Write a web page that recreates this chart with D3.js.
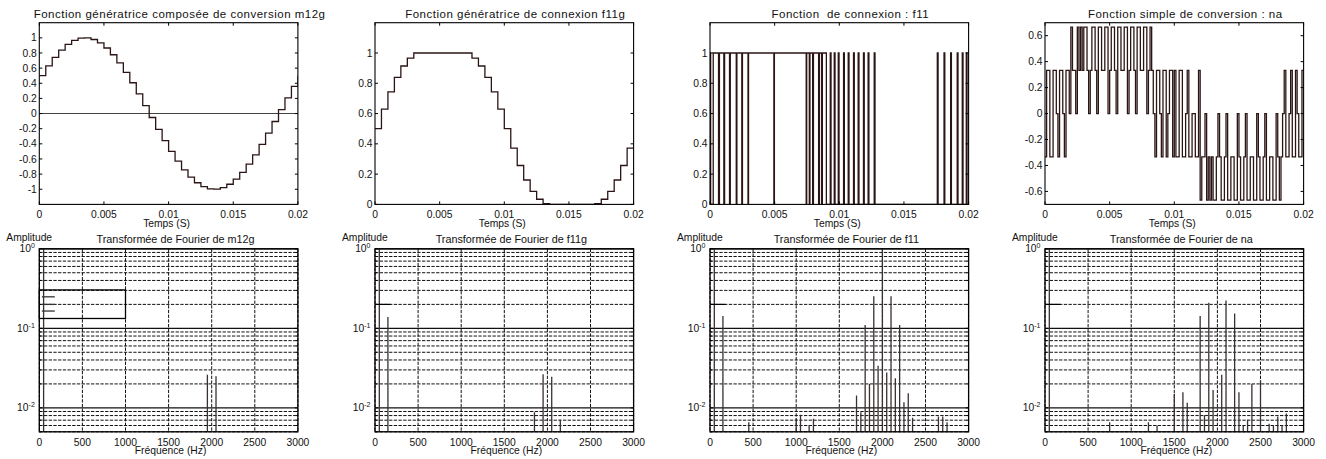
<!DOCTYPE html>
<html>
<head>
	<meta charset="utf-8">
	<script src="https://cdnjs.cloudflare.com/ajax/libs/d3/7.8.5/d3.min.js" charset="utf-8"></script>
	<style>
		body { margin: 0; background: #fff; }
		svg { font-family: 'Liberation Sans', Arial, sans-serif; }
		.lbl { font-size: 10.3px; fill: #111; }
		.title { font-size: 10.8px; fill: #111; text-anchor: middle; white-space: pre; }
		.title.big { font-size: 11.5px; letter-spacing: 0.5px; }
	</style>
</head>
<body>
<div id="chart"></div>
<script>

///////////////////////////////////////////////////
////////////////////// Data ///////////////////////
///////////////////////////////////////////////////

//Time axis of the upper plots and frequency axis of the lower plots
var timeTicks = [0, 0.005, 0.01, 0.015, 0.02];
var timeTickLabels = ["0", "0.005", "0.01", "0.015", "0.02"];
var freqTicks = [0, 500, 1000, 1500, 2000, 2500, 3000];
var stepDt = 0.0005;

//Stepped modulating functions, one value per 0.5 ms
var m12gValues = [0.5, 0.629, 0.743, 0.839, 0.914, 0.966, 0.995, 0.999, 0.978, 0.934,
	0.866, 0.777, 0.669, 0.545, 0.407, 0.259, 0.105, -0.052, -0.208, -0.358,
	-0.5, -0.629, -0.743, -0.839, -0.914, -0.966, -0.995, -0.999, -0.978, -0.934,
	-0.866, -0.777, -0.669, -0.545, -0.407, -0.259, -0.105, 0.052, 0.208, 0.358, 0.5];
var f11gValues = [0.5, 0.629, 0.743, 0.839, 0.914, 0.966, 1, 1, 1, 1,
	1, 1, 1, 1, 1, 0.966, 0.914, 0.839, 0.743, 0.629,
	0.5, 0.371, 0.257, 0.161, 0.086, 0.034, 0.005, 0, 0, 0,
	0, 0, 0, 0, 0.005, 0.034, 0.086, 0.161, 0.257, 0.371, 0.371];

//Connection function f11 : switching instants (starts at 1)
var f11Edges = [0.00005, 0.00025, 0.00066, 0.00073, 0.00107, 0.00113, 0.00151, 0.00157,
	0.00203, 0.00208, 0.00246, 0.00251, 0.00294, 0.00298, 0.00494, 0.00498,
	0.00744, 0.00748, 0.00768, 0.00773, 0.00794, 0.00800, 0.00840, 0.00846,
	0.00863, 0.00869, 0.00900,
	0.00930, 0.00936, 0.00961, 0.00967, 0.00992, 0.00998, 0.01033, 0.01039,
	0.01069, 0.01075, 0.01110, 0.01116, 0.01146, 0.01152, 0.01187, 0.01193,
	0.01223, 0.01229, 0.01270, 0.01276, 0.01758, 0.01764, 0.01810, 0.01816,
	0.01861, 0.01867, 0.01912, 0.01918, 0.01951, 0.01957, 0.01982, 0.01988];

//Simple conversion function na, in thirds, one level per 0.125 ms
var naDt = 0.000125;
var naThirds = [
	-1, 1, 1, -1,  -1, 1, 1, 0,  -1, 1, 1, 0,  -1, 1, 1, 0,
	2, 1, 1, 0,  2, 1, 2, 1,  2, 2, 1, 0,  1, 2, 2, 1,
	0, 2, 2, 1,  1, 2, 2, 0,  1, 2, 2, 1,  0, 2, 2, 1,
	1, 2, 2, 0,  1, 2, 2, 1,  0, 2, 2, 1,  1, 2, 2, 0,
	1, 2, 1, 0,  -1, 1, 1, 0,  -1, 1, 1, -1,  0, 1, 1, -1,
	1, -1, -1, 1,  1, -1, -1, 0,  1, -1, -1, 0,  0, -1, -1, 1,
	-2, -1, -1, 0,  -2, -1, -2, -1,  -2, -2, -1, 0,  -1, -2, -2, -1,
	0, -2, -2, -1,  -1, -2, -2, 0,  -1, -2, -2, -1,  0, -2, -2, -1,
	-1, -2, -2, 0,  -1, -2, -2, -1,  0, -2, -2, -1,  -1, -2, -2, 0,
	-1, -2, -1, 0,  1, -1, -1, 0,  1, -1, -1, 1,  0, -1, -1, 1];

//Fourier spectra (frequency in Hz, amplitude)
var m12gFreq = [50, 1950, 2050];
var m12gAmp = [1, 0.026, 0.025];
var f11gFreq = [50, 150, 1850, 1950, 2050, 2150];
var f11gAmp = [1, 0.139, 0.0088, 0.0264, 0.0247, 0.0071];
var f11Freq = [50, 150, 450, 1000, 1050, 1150, 1200, 1700, 1750, 1800, 1850, 1900, 1950, 2000,
	2050, 2100, 2150, 2200, 2250, 2300, 2350, 2650, 2700, 2750];
var f11Amp = [1, 0.143, 0.0066, 0.0073, 0.0082, 0.006, 0.0073, 0.0143, 0.0088, 0.110, 0.020, 0.254, 0.0338, 1,
	0.0279, 0.254, 0.0235, 0.110, 0.0118, 0.0153, 0.0075, 0.0078, 0.0078, 0.0066];
var naFreq = [50, 750, 1200, 1300, 1500, 1600, 1650, 1800, 1850, 1900, 1950, 2050, 2100, 2200,
	2250, 2300, 2350, 2400, 2500, 2600, 2650, 2700, 2750, 2800];
var naAmp = [1, 0.0066, 0.0066, 0.006, 0.015, 0.0157, 0.0116, 0.143, 0.0081, 0.209, 0.0168, 0.026, 0.224, 0.154,
	0.0157, 0.006, 0.0071, 0.020, 0.0223, 0.0063, 0.006, 0.0078, 0.006, 0.0085];

//Y ticks of the upper plots
var m12gTicks = [-1, -0.8, -0.6, -0.4, -0.2, 0, 0.2, 0.4, 0.6, 0.8, 1];
var unitTicks = [0, 0.2, 0.4, 0.6, 0.8, 1];
var naTicks = [-0.6, -0.4, -0.2, 0, 0.2, 0.4, 0.6];
var logTicks = [0.01, 0.1, 1];
var logTickExp = ["-2", "-1", "0"];

///////////////////////////////////////////////////
//////////////// Build the series /////////////////
///////////////////////////////////////////////////

function steps(values, dt) {
	return values.map(function(v, i) { return [Math.min(i * dt, 0.02), v]; });
}
var m12gPts = steps(m12gValues, stepDt);
var f11gPts = steps(f11gValues, stepDt);

var f11Pts = [[0, 1]], lvl = 1;
f11Edges.forEach(function(t) { lvl = 1 - lvl; f11Pts.push([t, lvl]); });
f11Pts.push([0.02, lvl]);

var naPts = naThirds.map(function(v, i) { return [i * naDt, v / 3]; });
naPts.push([0.02, naThirds[naThirds.length - 1] / 3]);

///////////////////////////////////////////////////
////////////// Initialize the SVG /////////////////
///////////////////////////////////////////////////

var width = 1326, height = 459;
var svg = d3.select("#chart").append("svg")
	.attr("width", width)
	.attr("height", height);

var colLeft = [39.3, 375, 710, 1045],
	plotW = 258.6;
var topRow = {y0: 22.7, y1: 204.4},
	botRow = {y0: 248.8, y1: 431.8};
var lineColor = "#2b1414";

function fmt(v) { return String(+v.toFixed(3)); }

///////////////////////////////////////////////////
///////////////// Upper plots /////////////////////
///////////////////////////////////////////////////

var topPanels = [
	{title: "Fonction génératrice composée de conversion m12g", dom: [-1.2, 1.2], ticks: m12gTicks, pts: m12gPts, zero: true},
	{title: "Fonction génératrice de connexion f11g", dom: [0, 1.2], ticks: unitTicks, pts: f11gPts},
	{title: "Fonction  de connexion : f11", dom: [0, 1.2], ticks: unitTicks, pts: f11Pts},
	{title: "Fonction simple de conversion : na", dom: [-0.7, 0.7], ticks: naTicks, pts: naPts}
];

topPanels.forEach(function(p, i) {
	var x0 = colLeft[i], x1 = x0 + plotW;
	var x = d3.scaleLinear().domain([0, 0.02]).range([x0, x1]);
	var y = d3.scaleLinear().domain(p.dom).range([topRow.y1, topRow.y0]);
	var g = svg.append("g");

	g.append("clipPath").attr("id", "clipT" + i)
		.append("rect").attr("x", x0).attr("y", topRow.y0).attr("width", plotW).attr("height", topRow.y1 - topRow.y0);

	if (p.zero) {
		g.append("line")
			.attr("x1", x0).attr("x2", x1)
			.attr("y1", y(0)).attr("y2", y(0))
			.style("stroke", "#444").style("stroke-width", 1.1);
	}

	var line = d3.line()
		.x(function(d) { return x(d[0]); })
		.y(function(d) { return y(d[1]); })
		.curve(d3.curveStepAfter);

	g.append("path")
		.attr("d", line(p.pts))
		.attr("clip-path", "url(#clipT" + i + ")")
		.style("fill", "none")
		.style("stroke", lineColor)
		.style("stroke-width", 1.3);

	//Frame and inner ticks
	g.append("rect")
		.attr("x", x0).attr("y", topRow.y0)
		.attr("width", plotW).attr("height", topRow.y1 - topRow.y0)
		.style("fill", "none").style("stroke", "#000").style("stroke-width", 1.1);

	timeTicks.forEach(function(t, k) {
		g.append("line").attr("x1", x(t)).attr("x2", x(t)).attr("y1", topRow.y1).attr("y2", topRow.y1 - 3).style("stroke", "#000");
		g.append("line").attr("x1", x(t)).attr("x2", x(t)).attr("y1", topRow.y0).attr("y2", topRow.y0 + 3).style("stroke", "#000");
		g.append("text").attr("class", "lbl")
			.attr("x", x(t)).attr("y", topRow.y1 + 13.7)
			.style("text-anchor", "middle")
			.text(timeTickLabels[k]);
	});

	p.ticks.forEach(function(v) {
		g.append("line").attr("x1", x0).attr("x2", x0 + 3).attr("y1", y(v)).attr("y2", y(v)).style("stroke", "#000");
		g.append("line").attr("x1", x1).attr("x2", x1 - 3).attr("y1", y(v)).attr("y2", y(v)).style("stroke", "#000");
		g.append("text").attr("class", "lbl")
			.attr("x", x0 - 2.5).attr("y", y(v)).attr("dy", "0.35em")
			.style("text-anchor", "end")
			.text(fmt(v));
	});

	g.append("text").attr("class", "title big")
		.attr("xml:space", "preserve")
		.attr("x", (x0 + x1) / 2 + 11).attr("y", 17.5)
		.text(p.title);

	g.append("text").attr("class", "lbl")
		.attr("x", (x0 + x1) / 2 - 2).attr("y", topRow.y1 + 22.4)
		.style("text-anchor", "middle")
		.text("Temps (S)");
});

///////////////////////////////////////////////////
///////////////// Lower plots /////////////////////
///////////////////////////////////////////////////

var botPanels = [
	{title: "Transformée de Fourier de m12g", freq: m12gFreq, amp: m12gAmp, box: true},
	{title: "Transformée de Fourier de f11g", freq: f11gFreq, amp: f11gAmp},
	{title: "Transformée de Fourier de f11", freq: f11Freq, amp: f11Amp},
	{title: "Transformée de Fourier de na", freq: naFreq, amp: naAmp}
];

botPanels.forEach(function(p, i) {
	var x0 = colLeft[i], x1 = x0 + plotW;
	var x = d3.scaleLinear().domain([0, 3000]).range([x0, x1]);
	var y = d3.scaleLog().domain([0.005, 1]).range([botRow.y1, botRow.y0]);
	var g = svg.append("g");

	g.append("clipPath").attr("id", "clipB" + i)
		.append("rect").attr("x", x0).attr("y", botRow.y0).attr("width", plotW).attr("height", botRow.y1 - botRow.y0);

	//Grid
	y.ticks().forEach(function(v) {
		var major = Math.abs(Math.log10(v) - Math.round(Math.log10(v))) < 1e-9;
		g.append("line")
			.attr("x1", x0).attr("x2", x1)
			.attr("y1", y(v)).attr("y2", y(v))
			.style("stroke", "#111")
			.style("stroke-width", major ? 1.2 : 1)
			.style("stroke-dasharray", major ? null : "3.3,1.4");
		g.append("line").attr("x1", x0).attr("x2", x0 + (major ? 3 : 2)).attr("y1", y(v)).attr("y2", y(v)).style("stroke", "#000");
		g.append("line").attr("x1", x1).attr("x2", x1 - (major ? 3 : 2)).attr("y1", y(v)).attr("y2", y(v)).style("stroke", "#000");
	});
	freqTicks.forEach(function(f) {
		g.append("line")
			.attr("x1", x(f)).attr("x2", x(f))
			.attr("y1", botRow.y0).attr("y2", botRow.y1)
			.style("stroke", "#111").style("stroke-width", 1)
			.style("stroke-dasharray", "3.3,1.4");
		g.append("text").attr("class", "lbl")
			.attr("x", x(f)).attr("y", botRow.y1 + 13.7)
			.style("text-anchor", "middle")
			.text(f);
	});

	//Spectrum lines
	g.selectAll(".spec")
		.data(p.freq)
	  .enter().append("line")
		.attr("class", "spec")
		.attr("clip-path", "url(#clipB" + i + ")")
		.attr("x1", function(d) { return x(d); })
		.attr("x2", function(d) { return x(d); })
		.attr("y1", botRow.y1)
		.attr("y2", function(d, k) { return y(Math.min(p.amp[k], 1.2)); })
		.style("stroke", "#3a3030")
		.style("stroke-width", 1.3);

	//Empty legend remains
	if (p.box) {
		g.append("rect")
			.attr("x", x(0)).attr("y", y(0.304))
			.attr("width", x(1000) - x(0)).attr("height", y(0.133) - y(0.304))
			.style("fill", "none").style("stroke", "#000").style("stroke-width", 1.3);
		[0.249, 0.2, 0.165].forEach(function(v) {
			g.append("line").attr("x1", x(30)).attr("x2", x(180)).attr("y1", y(v)).attr("y2", y(v))
				.style("stroke", "#333").style("stroke-width", 1.3);
		});
	} else {
		g.append("line").attr("x1", x(0)).attr("x2", x(180)).attr("y1", y(0.2)).attr("y2", y(0.2))
			.style("stroke", "#000").style("stroke-width", 1.2);
	}

	//Frame
	g.append("rect")
		.attr("x", x0).attr("y", botRow.y0)
		.attr("width", plotW).attr("height", botRow.y1 - botRow.y0)
		.style("fill", "none").style("stroke", "#000").style("stroke-width", 1.3);

	//Log tick labels
	logTicks.forEach(function(v, k) {
		var t = g.append("text").attr("class", "lbl")
			.attr("x", x0 - 4.5).attr("y", y(v)).attr("dy", "0.35em")
			.style("text-anchor", "end");
		t.append("tspan").text("10");
		t.append("tspan").attr("dy", -4).style("font-size", "7px").text(logTickExp[k]);
	});

	g.append("text").attr("class", "title")
		.attr("x", (x0 + x1) / 2 + 7).attr("y", 243.3)
		.text(p.title);

	g.append("text").attr("class", "lbl")
		.attr("x", x0 - 33).attr("y", 240.8)
		.text("Amplitude");

	g.append("text").attr("class", "lbl")
		.attr("x", (x0 + x1) / 2 + 2).attr("y", botRow.y1 + 22.4)
		.style("text-anchor", "middle")
		.text("Fréquence (Hz)");
});

</script>
</body>
</html>
